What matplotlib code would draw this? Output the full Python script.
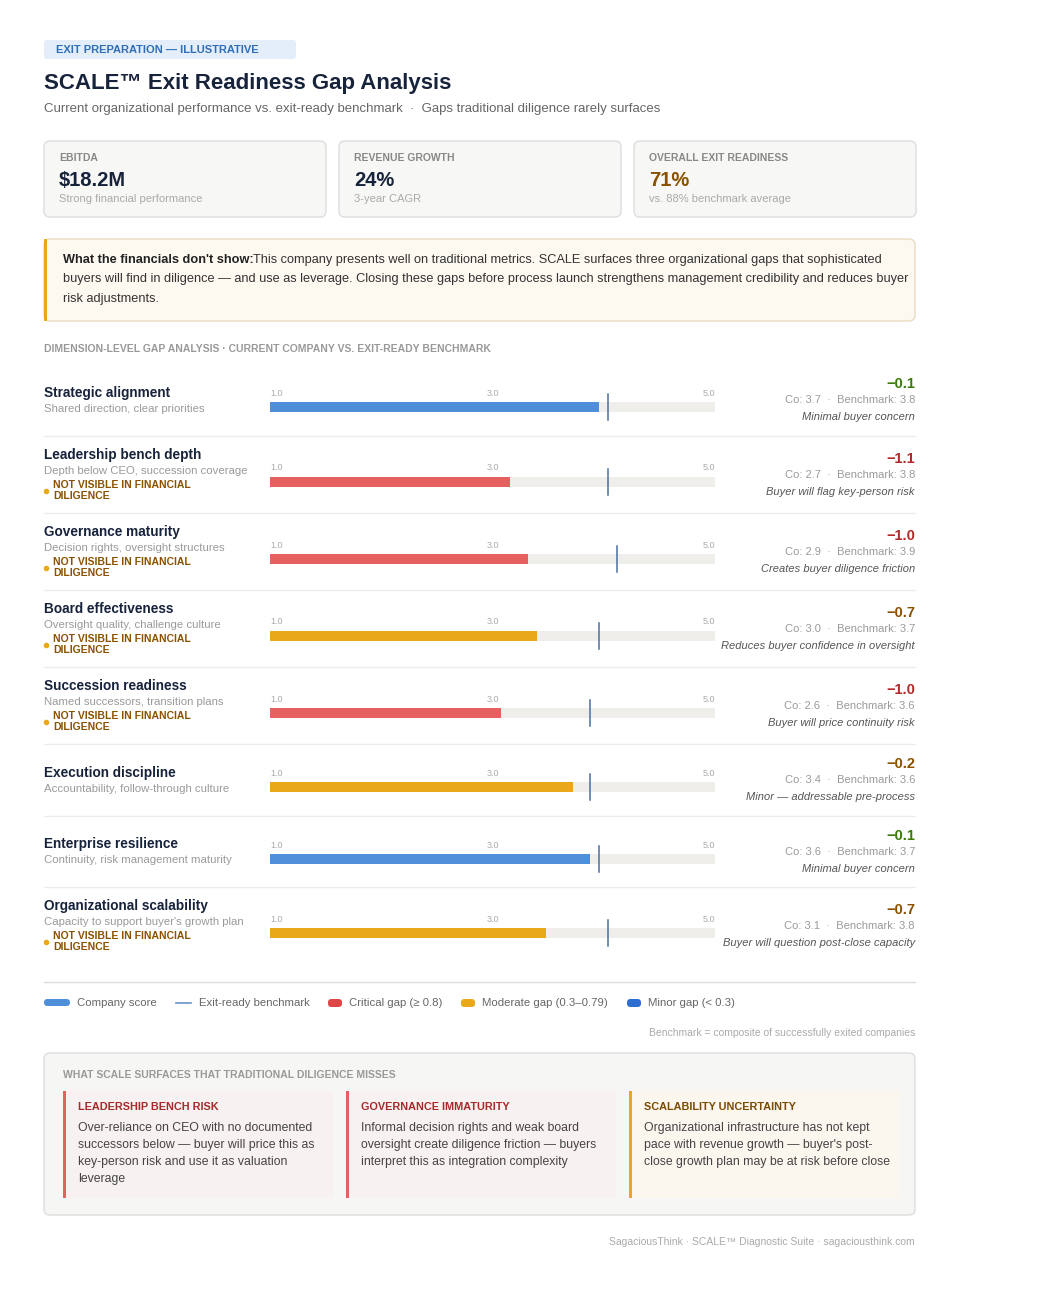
#!/usr/bin/env python3
"""SCALE exit readiness gap analysis: company score vs exit-ready benchmark per dimension."""

import matplotlib
matplotlib.use("Agg")
import matplotlib.pyplot as plt
from matplotlib.patches import FancyBboxPatch, Rectangle

plt.rcParams["font.family"] = ["Liberation Sans", "DejaVu Sans"]

DIMENSIONS = ["Strategic alignment", "Leadership bench depth", "Governance maturity",
              "Board effectiveness", "Succession readiness", "Execution discipline",
              "Enterprise resilience", "Organizational scalability"]
SUBTITLES = ["Shared direction, clear priorities", "Depth below CEO, succession coverage",
             "Decision rights, oversight structures", "Oversight quality, challenge culture",
             "Named successors, transition plans", "Accountability, follow-through culture",
             "Continuity, risk management maturity", "Capacity to support buyer's growth plan"]
COMPANY = [3.7, 2.7, 2.9, 3.0, 2.6, 3.4, 3.6, 3.1]
BENCHMARK = [3.8, 3.8, 3.9, 3.7, 3.6, 3.6, 3.7, 3.8]
HIDDEN = [False, True, True, True, True, False, False, True]
NOTES = ["Minimal buyer concern", "Buyer will flag key-person risk", "Creates buyer diligence friction",
         "Reduces buyer confidence in oversight", "Buyer will price continuity risk",
         "Minor \u2014 addressable pre-process", "Minimal buyer concern",
         "Buyer will question post-close capacity"]
ROW_TOP = [393, 455, 532, 609, 686, 773, 844, 906]   # title baseline-ish (px)
BAR_Y = [407, 482, 559, 636, 713, 787, 859, 933]
SEPARATORS = [436, 513, 590, 667, 744, 816, 887]

W, H = 1040, 1292
BLUE, RED, AMBER = "#4f8fd9", "#e5605e", "#e8a817"
NAVY, GREY = "#17223b", "#9a9a9a"


def gap_style(gap):
    g = abs(gap)
    if g >= 0.8:
        return RED, "#b02a2a"
    if g >= 0.3:
        return AMBER, "#8a5200"
    if g >= 0.15:
        return AMBER, "#8a5200"
    return BLUE, "#3c7a0c"


def box(ax, x, y, w, h, fc, ec, r=6, lw=1):
    ax.add_patch(FancyBboxPatch((x, y), w, h, boxstyle=f"round,pad=0,rounding_size={r}",
                                fc=fc, ec=ec, lw=lw))


def main() -> None:
    fig = plt.figure(figsize=(W / 100, H / 100), dpi=100)
    ax = fig.add_axes([0, 0, 1, 1])
    ax.set_xlim(0, W)
    ax.set_ylim(H, 0)
    ax.axis("off")

    # Header
    box(ax, 44, 40, 252, 19, "#e3eefa", "none", r=3)
    ax.text(56, 50, "EXIT PREPARATION \u2014 ILLUSTRATIVE", color="#2f6db5", fontsize=8,
            fontweight="bold", va="center")
    ax.text(44, 83, "SCALE\u2122 Exit Readiness Gap Analysis", color=NAVY, fontsize=16,
            fontweight="bold", va="center")
    ax.text(44, 109, "Current organizational performance vs. exit-ready benchmark  \u00b7  "
            "Gaps traditional diligence rarely surfaces", color="#666666", fontsize=9.5, va="center")

    # KPI cards
    cards = [("EBITDA", "$18.2M", "Strong financial performance", NAVY),
             ("REVENUE GROWTH", "24%", "3-year CAGR", NAVY),
             ("OVERALL EXIT READINESS", "71%", "vs. 88% benchmark average", "#8a5200")]
    for i, (lab, val, sub, col) in enumerate(cards):
        x0 = 44 + i * 295
        box(ax, x0, 141, 282, 76, "#f7f7f5", "#dddddd")
        ax.text(x0 + 15, 158, lab, color="#888888", fontsize=7.5, fontweight="bold", va="center")
        ax.text(x0 + 15, 180, val, color=col, fontsize=14.5, fontweight="bold", va="center")
        ax.text(x0 + 15, 199, sub, color="#aaaaaa", fontsize=8, va="center")

    # Callout
    box(ax, 44, 239, 871, 82, "#fdf8f0", "#ecdcc0")
    ax.add_patch(Rectangle((44, 239), 3, 82, color=AMBER, lw=0))
    ax.text(63, 260, "What the financials don't show:", color="#222222", fontsize=9.2,
            fontweight="bold", va="center")
    ax.text(253, 260, "This company presents well on traditional metrics. SCALE surfaces three "
            "organizational gaps that sophisticated", color="#333333", fontsize=9.2, va="center")
    ax.text(63, 279, "buyers will find in diligence \u2014 and use as leverage. Closing these gaps "
            "before process launch strengthens management credibility and reduces buyer",
            color="#333333", fontsize=9.2, va="center")
    ax.text(63, 299, "risk adjustments.", color="#333333", fontsize=9.2, va="center")

    ax.text(44, 349, "DIMENSION-LEVEL GAP ANALYSIS \u00b7 CURRENT COMPANY VS. EXIT-READY BENCHMARK",
            color="#999999", fontsize=7.5, fontweight="bold", va="center")

    # Rows
    for i, name in enumerate(DIMENSIONS):
        gap = round(COMPANY[i] - BENCHMARK[i], 1)
        bar_col, txt_col = gap_style(gap)
        ax.text(44, ROW_TOP[i], name, color=NAVY, fontsize=9.8, fontweight="bold", va="center")
        ax.text(44, ROW_TOP[i] + 16, SUBTITLES[i], color=GREY, fontsize=8.2, va="center")
        if HIDDEN[i]:
            ax.plot(46, ROW_TOP[i] + 36, "o", color=AMBER, ms=3)
            ax.text(53, ROW_TOP[i] + 30, "NOT VISIBLE IN FINANCIAL", color="#8a5200",
                    fontsize=7.5, fontweight="bold", va="center")
            ax.text(53, ROW_TOP[i] + 41, "DILIGENCE", color="#8a5200", fontsize=7.5,
                    fontweight="bold", va="center")

        bx = fig.add_axes([270 / W, 1 - (BAR_Y[i] + 14) / H, 445 / W, 28 / H])
        bx.set_xlim(0, 5)
        bx.set_ylim(-1, 1)
        bx.axis("off")
        bx.barh(0, 5, height=0.7, color="#efeeeb")
        bx.barh(0, COMPANY[i], height=0.7, color=bar_col)
        bx.plot([BENCHMARK[i]] * 2, [-0.95, 0.95], color="#4a6fa0", lw=1.1)
        for frac, lab, ha in [(0, "1.0", "left"), (0.5, "3.0", "center"), (1, "5.0", "right")]:
            ax.text(270 + 445 * frac, BAR_Y[i] - 14, lab, color="#aaaaaa", fontsize=6.5,
                    ha=ha, va="center")

        ax.text(915, BAR_Y[i] - 23, f"\u2212{abs(gap):.1f}", color=txt_col, fontsize=10.5,
                fontweight="bold", ha="right", va="center")
        ax.text(915, BAR_Y[i] - 7, f"Co: {COMPANY[i]:.1f}  \u00b7  Benchmark: {BENCHMARK[i]:.1f}",
                color=GREY, fontsize=8, ha="right", va="center")
        ax.text(915, BAR_Y[i] + 10, NOTES[i], color="#555555", fontsize=8, style="italic",
                ha="right", va="center")
    for y in SEPARATORS:
        ax.plot([44, 915], [y, y], color="#ececec", lw=1)

    # Legend
    ax.plot([44, 915], [982, 982], color="#dddddd", lw=1)
    ax.add_patch(FancyBboxPatch((44, 999), 26, 7, boxstyle="round,pad=0,rounding_size=3.5",
                                fc=BLUE, ec="none"))
    ax.text(77, 1003, "Company score", color="#666666", fontsize=8.2, va="center")
    ax.plot([176, 191], [1003, 1003], color="#6a93c8", lw=1.2)
    ax.text(199, 1003, "Exit-ready benchmark", color="#666666", fontsize=8.2, va="center")
    for x, c, lab in [(328, "#e04545", "Critical gap (\u2265 0.8)"),
                      (461, AMBER, "Moderate gap (0.3\u20130.79)"),
                      (627, "#2d6fd0", "Minor gap (< 0.3)")]:
        ax.add_patch(FancyBboxPatch((x, 999), 14, 8, boxstyle="round,pad=0,rounding_size=3.5",
                                    fc=c, ec="none"))
        ax.text(x + 21, 1003, lab, color="#666666", fontsize=8.2, va="center")
    ax.text(915, 1033, "Benchmark = composite of successfully exited companies", color="#aaaaaa",
            fontsize=7.5, ha="right", va="center")

    # Bottom panel
    box(ax, 44, 1053, 871, 162, "#f6f6f4", "#dddddd")
    ax.text(63, 1075, "WHAT SCALE SURFACES THAT TRADITIONAL DILIGENCE MISSES", color="#999999",
            fontsize=7.5, fontweight="bold", va="center")
    panels = [("LEADERSHIP BENCH RISK", RED, "#a52a2a", "#f8f1f1",
               ["Over-reliance on CEO with no documented", "successors below \u2014 buyer will price this as",
                "key-person risk and use it as valuation", "leverage"]),
              ("GOVERNANCE IMMATURITY", RED, "#a52a2a", "#f8f1f1",
               ["Informal decision rights and weak board", "oversight create diligence friction \u2014 buyers",
                "interpret this as integration complexity"]),
              ("SCALABILITY UNCERTAINTY", AMBER, "#7a4a00", "#fbf6ee",
               ["Organizational infrastructure has not kept", "pace with revenue growth \u2014 buyer's post-",
                "close growth plan may be at risk before close"])]
    for j, (title, edge, tcol, bg, lines) in enumerate(panels):
        x0 = 63 + j * 283
        ax.add_patch(Rectangle((x0, 1091), 270, 107, color=bg, lw=0))
        ax.add_patch(Rectangle((x0, 1091), 2.5, 107, color=edge, lw=0))
        ax.text(x0 + 15, 1107, title, color=tcol, fontsize=7.8, fontweight="bold", va="center")
        for k, line in enumerate(lines):
            ax.text(x0 + 15, 1128 + k * 17, line, color="#444444", fontsize=8.8, va="center")

    ax.text(915, 1242, "SagaciousThink \u00b7 SCALE\u2122 Diagnostic Suite \u00b7 sagaciousthink.com",
            color="#aaaaaa", fontsize=7.5, ha="right", va="center")

    fig.savefig("out.png", dpi=100)
    plt.close(fig)


if __name__ == "__main__":
    main()
